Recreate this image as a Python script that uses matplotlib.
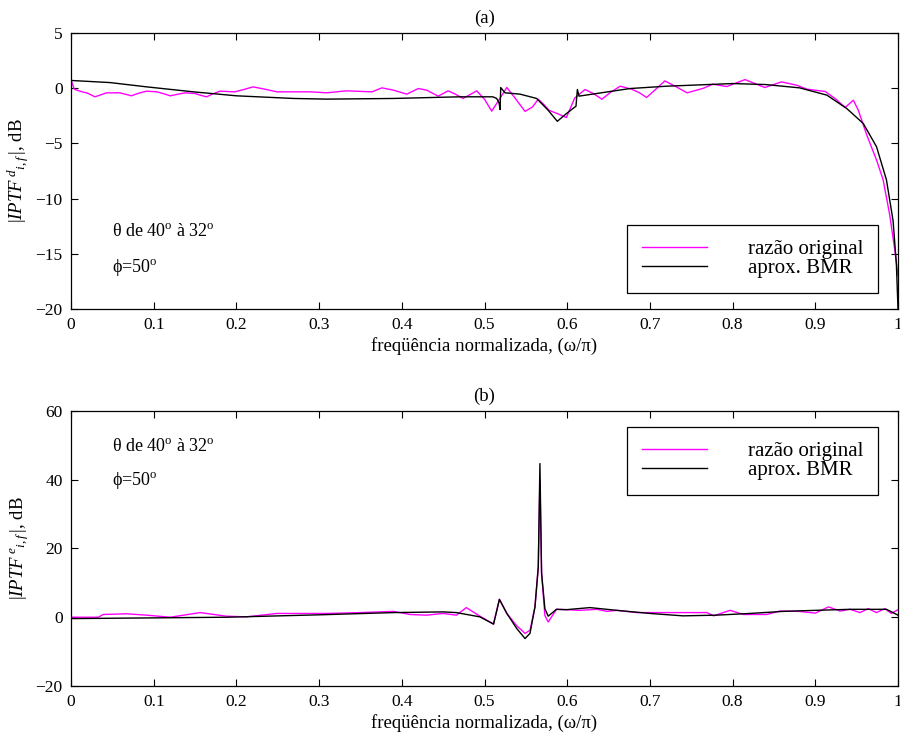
import numpy as np
import matplotlib
matplotlib.use("Agg")
from matplotlib import pyplot as plt

plt.rcParams['font.family'] = ['Liberation Serif', 'DejaVu Serif']
plt.rcParams['mathtext.fontset'] = 'custom'
plt.rcParams['mathtext.rm'] = 'Liberation Serif'
plt.rcParams['mathtext.it'] = 'Liberation Serif:italic'
plt.rcParams['font.size'] = 12.5

# painel (a): razao original
xa_orig = [0.0, 0.004, 0.012, 0.02, 0.029, 0.036, 0.043, 0.059, 0.066, 0.073, 0.082, 0.0915,
           0.104, 0.112, 0.12, 0.129, 0.138, 0.15, 0.157, 0.164, 0.172, 0.18, 0.198, 0.21,
           0.22, 0.235, 0.249, 0.277, 0.29, 0.309, 0.333, 0.364, 0.376, 0.39, 0.406, 0.42,
           0.43, 0.444, 0.456, 0.465, 0.474, 0.482, 0.4905, 0.50, 0.5087, 0.518, 0.527,
           0.538, 0.549, 0.558, 0.565, 0.572, 0.578, 0.588, 0.599, 0.609, 0.6215, 0.632,
           0.642, 0.652, 0.664, 0.678, 0.687, 0.696, 0.707, 0.718, 0.73, 0.745, 0.765, 0.776,
           0.793, 0.815, 0.839, 0.859, 0.8775, 0.89, 0.912, 0.925, 0.936, 0.946, 0.952,
           0.962, 0.974, 0.982, 0.99, 0.996, 1.0]
ya_orig = [0.75, -0.1, -0.3, -0.45, -0.78, -0.6, -0.42, -0.42, -0.55, -0.69, -0.45, -0.27,
           -0.33, -0.5, -0.69, -0.55, -0.42, -0.48, -0.65, -0.78, -0.5, -0.27, -0.33, -0.1,
           0.12, -0.1, -0.33, -0.33, -0.33, -0.42, -0.24, -0.33, 0.03, -0.18, -0.54, -0.03,
           -0.18, -0.72, -0.24, -0.55, -0.93, -0.6, -0.24, -1.0, -2.08, -1.0, 0.06,
           -1.0, -2.1, -1.7, -1.0, -1.5, -2.0, -2.3, -2.66, -0.9, -0.12, -0.5,
           -1.0, -0.4, 0.18, -0.09, -0.4, -0.84, -0.1, 0.66, 0.2, -0.42, 0.0, 0.36,
           0.15, 0.78, 0.06, 0.57, 0.27, -0.09, -0.3, -1.0, -1.75, -1.09, -2.0,
           -4.2, -6.5, -8.3, -11.5, -14.6, -17.0]

# painel (a): aproximacao BMR
xa_bmr = [0.0, 0.047, 0.0915, 0.148, 0.2, 0.269, 0.309, 0.39, 0.47, 0.51, 0.5147, 0.5175,
          0.5188, 0.5196, 0.5248, 0.543, 0.563, 0.577, 0.588, 0.599, 0.6106, 0.6123, 0.6143,
          0.6357, 0.676, 0.72, 0.8, 0.84, 0.881, 0.914, 0.938, 0.958, 0.974, 0.986, 0.994,
          0.998, 1.0]
ya_bmr = [0.7, 0.51, 0.12, -0.33, -0.69, -0.93, -0.99, -0.93, -0.78, -0.78, -0.93, -1.3,
          -1.93, 0.06, -0.42, -0.54, -0.93, -2.0, -3.0, -2.3, -1.63, -0.12, -0.72,
          -0.48, -0.03, 0.18, 0.42, 0.33, 0.03, -0.63, -1.84, -3.2, -5.3, -8.3, -12.0,
          -15.9, -20.0]

# painel (b): razao original
xb_orig = [0.0, 0.033, 0.039, 0.067, 0.0915, 0.12, 0.156, 0.188, 0.212, 0.249, 0.309, 0.35,
           0.39, 0.41, 0.43, 0.45, 0.466, 0.478, 0.4945, 0.5107, 0.518, 0.527, 0.539, 0.549,
           0.555, 0.561, 0.565, 0.567, 0.569, 0.573, 0.577, 0.587, 0.599, 0.615, 0.636,
           0.648, 0.66, 0.684, 0.72, 0.769, 0.777, 0.797, 0.813, 0.841, 0.857, 0.88, 0.9,
           0.916, 0.93, 0.942, 0.954, 0.964, 0.974, 0.984, 0.992, 1.0]
yb_orig = [0.0, 0.0, 0.8, 1.0, 0.6, 0.0, 1.35, 0.3, 0.1, 1.1, 1.1, 1.35,
           1.7, 0.8, 0.6, 1.1, 0.6, 2.8, 0.3, -2.0, 5.2, 1.1, -2.5, -4.7,
           -3.8, 3.0, 14.6, 40.0, 12.8, 0.5, -1.4, 2.3, 2.2, 2.0, 2.3,
           1.7, 2.0, 1.35, 1.35, 1.35, 0.4, 2.0, 0.8, 0.8, 1.8, 1.7, 1.2,
           3.0, 1.8, 2.3, 1.35, 2.5, 1.35, 2.5, 1.1, 2.2]

# painel (b): aproximacao BMR
xb_bmr = [0.0, 0.188, 0.3, 0.39, 0.45, 0.466, 0.4945, 0.511, 0.518, 0.527, 0.539, 0.549,
          0.555, 0.561, 0.565, 0.567, 0.569, 0.573, 0.577, 0.587, 0.599, 0.6275, 0.66,
          0.7, 0.74, 0.78, 0.821, 0.861, 0.9, 0.942, 0.986, 1.0]
yb_bmr = [-0.4, 0.0, 0.7, 1.35, 1.55, 1.35, 0.1, -2.0, 5.2, 1.1, -3.3, -6.2,
          -4.7, 3.0, 14.6, 44.7, 12.8, 2.5, 0.3, 2.3, 2.2, 2.8, 2.0,
          1.1, 0.4, 0.6, 1.1, 1.7, 2.0, 2.3, 2.3, 0.6]

xticks = np.arange(0, 1.01, 0.1)
xtick_labels = ['0', '0.1', '0.2', '0.3', '0.4', '0.5', '0.6', '0.7', '0.8', '0.9', '1']

fig = plt.figure(figsize=(9, 7.38), dpi=100)
ax1 = fig.add_axes([0.0789, 0.5813, 0.9189, 0.374])
ax2 = fig.add_axes([0.0789, 0.0705, 0.9189, 0.3726])

paineis = [
    (ax1, xa_orig, ya_orig, xa_bmr, ya_bmr, (-20, 5), [5, 0, -5, -10, -15, -20], '(a)', 'd'),
    (ax2, xb_orig, yb_orig, xb_bmr, yb_bmr, (-20, 60), [60, 40, 20, 0, -20], '(b)', 'e'),
]

for ax, xo, yo, xm, ym, ylim, yticks, titulo, sup in paineis:
    ax.plot(xo, yo, color='#ff00ff', lw=1.0, label='razão original')
    ax.plot(xm, ym, color='black', lw=1.0, label='aprox. BMR')
    ax.set_xlim(0, 1)
    ax.set_ylim(*ylim)
    ax.set_xticks(xticks)
    ax.set_xticklabels(xtick_labels)
    ax.set_yticks(yticks)
    ax.tick_params(direction='in', top=True, right=True, length=5, width=0.8,
                   labelsize=12.5, pad=6)
    for s in ax.spines.values():
        s.set_linewidth(0.9)
    ax.set_title(titulo, fontsize=13.5, pad=7)
    ax.set_xlabel('freqüência normalizada, (ω/π)', fontsize=13.5, labelpad=3)
    ax.set_ylabel(r'$|IPTF^{\,%s}{}_{i,f}\,|$, dB' % sup, fontsize=13.5, labelpad=3)

ax1.text(0.05, -13.0, r'θ de 40$^{\rm o}$ à 32$^{\rm o}$', va='center', fontsize=13)
ax1.text(0.05, -16.2, r'ϕ=50$^{\rm o}$', va='center', fontsize=13)
ax2.text(0.05, 49.7, r'θ de 40$^{\rm o}$ à 32$^{\rm o}$', va='center', fontsize=13)
ax2.text(0.05, 39.8, r'ϕ=50$^{\rm o}$', va='center', fontsize=13)

leg_kw = dict(fontsize=15, frameon=True, fancybox=False, framealpha=1,
              edgecolor='black', handlelength=3.1, handletextpad=2.0,
              borderpad=0.7, labelspacing=-0.02, borderaxespad=0)
l1 = ax1.legend(loc='lower right', bbox_to_anchor=(0.976, 0.058), **leg_kw)
l2 = ax2.legend(loc='upper right', bbox_to_anchor=(0.976, 0.942), **leg_kw)
for lg in (l1, l2):
    lg.get_frame().set_linewidth(0.9)

fig.savefig('out.png', dpi=100)
